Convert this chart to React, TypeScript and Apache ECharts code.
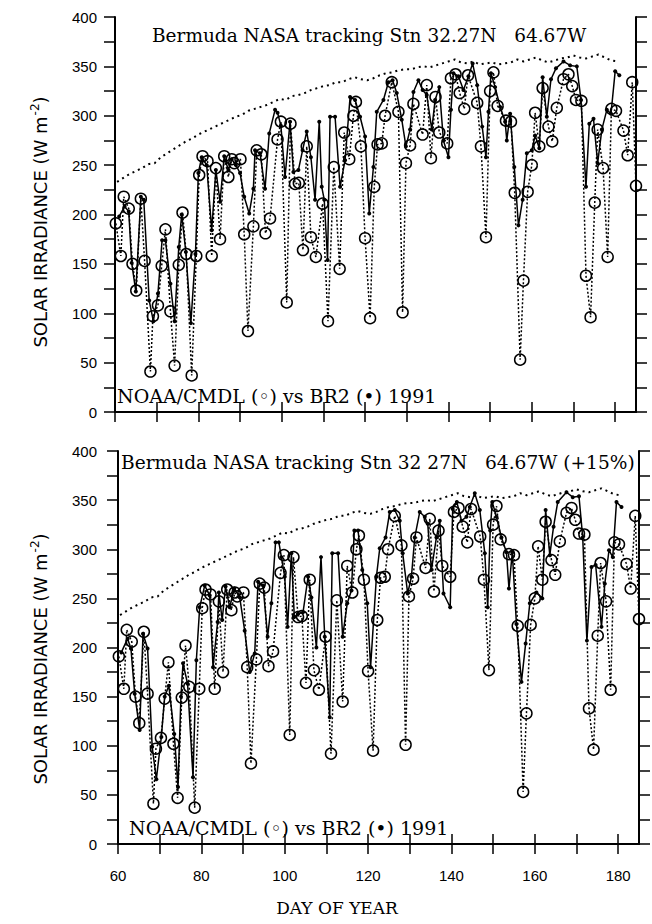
import React, { useEffect, useRef } from "react";
import * as echarts from "echarts";

// ---- Data (day of year, W m^-2) ----
const clearSky: number[][] = [
  [60.5, 233], [62, 237], [63.5, 241], [65, 244], [66.5, 247], [68, 251], [69.5, 252], [71, 258],
  [72.5, 262], [74, 266], [75.5, 270], [77, 274], [78.5, 277], [80, 281], [81.5, 284], [83, 287],
  [84.5, 290], [86, 293], [87.5, 296], [89, 299], [90.5, 301], [92, 305], [93.5, 307], [95, 309],
  [96.5, 311], [98, 314], [99.5, 317], [101, 316], [102.5, 320], [104, 321], [105.5, 323], [107, 326],
  [108.5, 328], [110, 330], [111.5, 331], [113, 334], [114.5, 334], [116, 337], [117.5, 339], [119, 337],
  [120.5, 336], [122, 338], [123.5, 341], [125, 343], [126.5, 344], [128, 346], [129.5, 347], [131, 347],
  [132.5, 349], [134, 350], [135.5, 349], [137, 351], [138.5, 353], [140, 355], [141.5, 357], [143, 354],
  [144.5, 353], [146, 355], [147.5, 352], [149, 353], [150.5, 354], [152, 352], [153.5, 353], [155, 354],
  [156.5, 357], [158, 355], [159.5, 357], [161, 359], [162.5, 356], [164, 354], [165.5, 356], [167, 358],
  [168.5, 359], [170, 361], [171.5, 359], [173, 358], [174.5, 360], [176, 362], [177.5, 359], [179, 356],
  [180.5, 355],
];

const noaa: number[][] = [
  [60.2, 191], [61.4, 158], [62.1, 218], [63.3, 206], [64.2, 150], [65.1, 123], [66.2, 216], [67.1, 153],
  [68.5, 41], [69.1, 97], [70.3, 108], [71.2, 148], [72.1, 185], [73.3, 102], [74.3, 47], [75.3, 149],
  [76.2, 202], [77.1, 160], [78.4, 37], [79.5, 158], [80.2, 240], [81.0, 259], [82.2, 254], [83.2, 158],
  [84.2, 247], [85.2, 175], [86.2, 259], [87.2, 238], [88.0, 256], [88.6, 252], [90.1, 256], [91.0, 180],
  [91.9, 82], [93.2, 188], [94.0, 265], [95.1, 261], [96.1, 181], [97.2, 196], [99.0, 276], [99.8, 294],
  [101.2, 111], [102.1, 292], [103.2, 231], [104.1, 232], [105.1, 164], [106.0, 269], [107.0, 177],
  [108.2, 157], [109.8, 211], [111.1, 92], [112.5, 248], [113.9, 145], [115.0, 283], [116.2, 256],
  [117.2, 300], [117.8, 314], [119.0, 269], [120.0, 176], [121.2, 95], [122.2, 228], [123.0, 271],
  [124.0, 272], [124.8, 300], [126.4, 334], [128.0, 304], [129.0, 101], [129.8, 252], [130.8, 270],
  [131.6, 312], [133.8, 281], [134.8, 331], [135.8, 257], [136.9, 319], [137.8, 283], [139.7, 272],
  [140.6, 338], [141.7, 342], [142.7, 323], [143.8, 307], [144.7, 341], [146.9, 313], [147.8, 269],
  [149.0, 177], [150.0, 325], [150.8, 344], [151.8, 310], [153.8, 295], [155.0, 294], [155.9, 222],
  [157.2, 53], [158.0, 133], [159.0, 223], [160.0, 250], [160.8, 303], [161.8, 269], [162.6, 328],
  [164.0, 289], [164.9, 274], [166.0, 308], [167.6, 337], [168.8, 342], [169.7, 330], [170.6, 316],
  [171.9, 315], [173.0, 138], [174.1, 96], [175.1, 212], [175.8, 286], [177.1, 247], [178.2, 157],
  [179.1, 307], [180.2, 305], [182.0, 285], [183.0, 260], [184.1, 334], [185.0, 229],
];

const br2Top: number[][] = [
  [61.0, 198], [62.3, 208], [63.3, 203], [64.0, 151], [65.0, 122], [66.2, 218], [66.9, 215], [68.2, 113],
  [69.2, 92], [70.3, 120], [71.3, 174], [72.1, 174], [73.3, 130], [74.3, 92], [75.3, 167], [76.0, 200],
  [77.0, 162], [78.2, 90], [79.3, 160], [80.0, 242], [80.8, 258], [82.0, 250], [83.2, 184], [84.2, 245],
  [85.2, 213], [86.2, 259], [87.2, 245], [88.0, 256], [89.0, 250], [90.0, 242], [91.0, 218], [92.2, 201],
  [93.2, 226], [93.6, 265], [94.8, 262], [96.0, 226], [97.0, 282], [98.4, 306], [99.0, 303], [99.8, 290],
  [100.8, 238], [102.0, 294], [102.8, 243], [104.0, 245], [105.0, 265], [106.0, 284], [107.0, 258],
  [108.0, 215], [109.0, 294], [109.6, 228], [110.2, 215], [111.0, 154], [111.6, 299], [112.8, 299],
  [114.0, 228], [115.2, 255], [116.4, 319], [117.6, 316], [118.8, 299], [120.0, 279], [121.0, 201],
  [122.0, 248], [122.8, 304], [124.4, 316], [125.6, 334], [126.6, 336], [127.6, 323], [128.8, 296],
  [129.8, 269], [130.8, 286], [131.6, 324], [132.8, 336], [133.8, 326], [134.8, 321], [136.0, 286],
  [136.8, 316], [137.8, 329], [138.8, 275], [140.0, 258], [140.6, 306], [141.2, 343], [142.4, 340],
  [143.6, 326], [144.8, 340], [145.8, 353], [146.9, 331], [148.1, 289], [149.0, 258], [149.6, 304],
  [150.2, 343], [151.2, 329], [152.4, 309], [153.6, 294], [154.0, 275], [154.8, 302], [155.8, 248],
  [156.8, 189], [157.8, 215], [158.8, 262], [160.0, 265], [160.8, 280], [161.8, 267], [162.6, 339],
  [163.6, 299], [164.6, 337], [165.8, 348], [167.6, 355], [169.2, 351], [170.8, 350], [171.8, 316],
  [173.0, 228], [173.8, 292], [174.8, 297], [175.8, 252], [176.8, 286], [178.0, 306], [179.0, 302],
  [180.0, 345], [181.0, 341],
];

const br2Bottom: number[][] = [
  [60.8, 195], [62.3, 209], [63.1, 199], [64.0, 153], [65.2, 116], [66.0, 214], [67.1, 199], [68.2, 99],
  [69.2, 66], [70.4, 109], [71.2, 150], [72.2, 161], [73.5, 112], [74.4, 58], [75.1, 150], [75.6, 184],
  [76.7, 163], [78.0, 68], [78.8, 187], [79.6, 241], [80.8, 263], [82.0, 253], [82.8, 180], [83.9, 226],
  [84.2, 256], [85.0, 228], [85.8, 262], [86.8, 241], [87.9, 260], [89.2, 251], [90.4, 217], [91.6, 175],
  [92.8, 194], [93.6, 267], [94.8, 263], [95.9, 211], [96.8, 245], [97.8, 307], [98.6, 307], [99.2, 292],
  [100.0, 272], [100.7, 221], [101.6, 296], [102.3, 231], [103.2, 234], [104.4, 236], [105.6, 272],
  [106.4, 251], [107.6, 200], [108.7, 292], [109.6, 211], [110.8, 129], [111.4, 296], [112.8, 296],
  [113.9, 211], [115.0, 245], [116.0, 258], [116.7, 319], [117.6, 319], [118.6, 279], [119.8, 245],
  [120.6, 180], [122.0, 272], [122.8, 301], [124.2, 312], [125.2, 338], [126.4, 340], [127.6, 329],
  [128.3, 296], [129.5, 255], [130.4, 272], [131.2, 312], [132.4, 338], [133.6, 333], [134.3, 326],
  [135.2, 279], [136.4, 312], [137.2, 329], [138.1, 255], [139.7, 241], [140.3, 341], [141.3, 348],
  [142.4, 329], [143.6, 333], [144.4, 343], [145.6, 357], [146.8, 340], [148.0, 296], [148.7, 241],
  [149.3, 319], [149.8, 348], [150.8, 333], [152.0, 312], [153.2, 297], [153.8, 260], [154.6, 297],
  [155.6, 224], [156.8, 165], [157.8, 204], [158.8, 245], [160.4, 256], [161.8, 250], [162.6, 340],
  [163.6, 294], [164.5, 323], [165.5, 348], [167.6, 358], [169.1, 353], [170.6, 354], [171.5, 312],
  [172.5, 207], [173.6, 282], [174.6, 284], [176.0, 221], [176.8, 265], [177.8, 299], [178.7, 292],
  [179.6, 348], [180.8, 343],
];

const xTicks = [60, 70, 80, 90, 100, 110, 120, 130, 140, 150, 160, 170, 180];
const xLabels = [60, 80, 100, 120, 140, 160, 180];
const yTicks = [0, 25, 50, 75, 100, 125, 150, 175, 200, 225, 250, 275, 300, 325, 350, 375, 400];
const yLabels = [0, 50, 100, 150, 200, 250, 300, 350, 400];

const titleTop = "Bermuda NASA tracking Stn 32.27N   64.67W";
const titleBottom = "Bermuda NASA tracking Stn 32 27N   64.67W (+15%)";
const legendText = "NOAA/CMDL (◦) vs BR2 (•) 1991";
const yTitle = "SOLAR IRRADIANCE (W m";
const xTitle = "DAY OF YEAR";

const TICK_FONT = "Liberation Sans";
const TEXT_FONT = "DejaVu Serif";
const YT_FONT = "DejaVu Sans";

function App() {
  const ref = useRef<HTMLDivElement>(null);
  useEffect(() => {
    if (!ref.current) return;
    const chart = echarts.init(ref.current, undefined, { renderer: "svg" });

    const grids = [
      { left: 115, top: 17, width: 521, height: 395 },
      { left: 118, top: 451, width: 521, height: 393 },
    ];

    const axisLine = { show: true, lineStyle: { color: "#000", width: 2 } };
    const xAxes: any[] = [];
    const yAxes: any[] = [];
    grids.forEach((_, g) => {
      xAxes.push({
        type: "value", gridIndex: g, position: "bottom", min: 60, max: 185,
        axisLine, splitLine: { show: false },
        axisTick: { show: true, inside: false, length: 10, customValues: xTicks, lineStyle: { color: "#000", width: 1.5 } },
        axisLabel: g === 1
          ? { show: true, customValues: xLabels, color: "#000", fontSize: 15, fontFamily: TICK_FONT, margin: 24 }
          : { show: false },
      });
      xAxes.push({
        type: "value", gridIndex: g, position: "top", min: 60, max: 185,
        axisLine, splitLine: { show: false },
        axisTick: { show: true, inside: false, length: 10, customValues: xTicks, lineStyle: { color: "#000", width: 1.5 } },
        axisLabel: { show: false },
      });
      yAxes.push({
        type: "value", gridIndex: g, position: "left", min: 0, max: 400,
        axisLine, splitLine: { show: false },
        axisTick: { show: true, inside: false, length: 11, customValues: yTicks, lineStyle: { color: "#000", width: 1.5 } },
        axisLabel: { show: true, customValues: yLabels, color: "#000", fontSize: 15, fontFamily: TICK_FONT, margin: g === 0 ? 18 : 21 },
      });
      yAxes.push({
        type: "value", gridIndex: g, position: "right", min: 0, max: 400,
        axisLine, splitLine: { show: false },
        axisTick: { show: true, inside: false, length: 11, customValues: yTicks, lineStyle: { color: "#000", width: 1.5 } },
        axisLabel: { show: false },
      });
    });

    const series: any[] = [];
    [br2Top, br2Bottom].forEach((br2, g) => {
      series.push({
        type: "line", xAxisIndex: g * 2, yAxisIndex: g * 2, data: clearSky,
        showSymbol: false, silent: true, z: 1,
        lineStyle: { color: "#000", width: 2, type: [2, 4] },
      });
      series.push({
        type: "line", xAxisIndex: g * 2, yAxisIndex: g * 2, data: br2,
        symbol: "circle", symbolSize: 4, silent: true, z: 2,
        itemStyle: { color: "#000" },
        lineStyle: { color: "#000", width: 1.5 },
      });
      series.push({
        type: "line", xAxisIndex: g * 2, yAxisIndex: g * 2, data: noaa,
        symbol: "circle", symbolSize: 11, silent: true, z: 3,
        itemStyle: { color: "rgba(0,0,0,0)", borderColor: "#000", borderWidth: 1.5 },
        lineStyle: { color: "#000", width: 1.5, type: [2, 2] },
      });
    });

    const txt = (x: number, y: number, text: string, extra: any = {}) => ({
      type: "text", x, y, silent: true, z: 10,
      style: {
        text, fill: "#000", fontSize: 18.5, fontFamily: TEXT_FONT,
        align: "left", verticalAlign: "middle", ...extra,
      },
    });

    const yTitleEl = (y: number) => ({
      type: "text", x: 40, y, rotation: Math.PI / 2, silent: true, z: 10,
      style: {
        text: `${yTitle}{sup|-2}{n|)}`,
        fill: "#000", fontSize: 18, fontFamily: YT_FONT, align: "center", verticalAlign: "middle",
        rich: {
          sup: { fontSize: 12, fontFamily: YT_FONT, verticalAlign: "top", padding: [0, 0, 10, 1] },
          n: { fontSize: 18, fontFamily: YT_FONT },
        },
      },
    });

    chart.setOption({
      animation: false,
      backgroundColor: "#fff",
      grid: grids.map((g) => ({ ...g, containLabel: false })),
      xAxis: xAxes,
      yAxis: yAxes,
      series,
      graphic: [
        txt(152, 35, titleTop),
        txt(117, 396, legendText, { fontSize: 19 }),
        txt(121, 462, titleBottom, { fontSize: 18.6 }),
        txt(129, 828, legendText, { fontSize: 19 }),
        txt(337, 908, xTitle, { align: "center", fontSize: 17 }),
        yTitleEl(222),
        yTitleEl(659),
      ],
    });
    return () => chart.dispose();
  }, []);
  return <div ref={ref} style={{ position: "absolute", left: 0, top: 0, width: 652, height: 924 }} />;
}

export default App;
